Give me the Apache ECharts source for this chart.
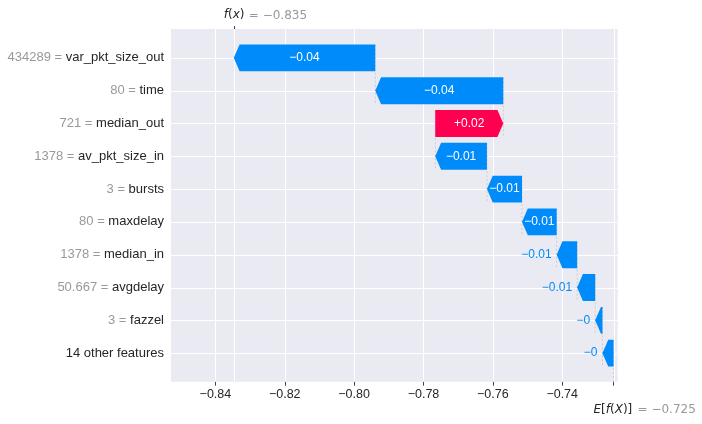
<!DOCTYPE html>
<html>
<head>
<meta charset="utf-8">
<script src="https://cdn.jsdelivr.net/npm/echarts@6/dist/echarts.min.js"></script>
<style>
  html, body { margin: 0; padding: 0; background: #ffffff; }
  #chart { width: 702px; height: 424px; }
</style>
</head>
<body>
<div id="chart"></div>
<script>
// ---- data (top row first) ----
const featureNames = ['var_pkt_size_out', 'time', 'median_out', 'av_pkt_size_in', 'bursts',
  'maxdelay', 'median_in', 'avgdelay', 'fazzel', '14 other features'];
const featureValues = ['434289', '80', '721', '1378', '3', '80', '1378', '50.667', '3', ''];
const shapValues = [-0.0408, -0.0369, 0.0196, -0.0149, -0.0101, -0.0100, -0.0059, -0.0052, -0.0021, -0.0032];
const barLabels = ['\u22120.04', '\u22120.04', '+0.02', '\u22120.01', '\u22120.01', '\u22120.01', '\u22120.01', '\u22120.01', '\u22120', '\u22120'];
const baseValue = -0.7252;
const xTicks = [-0.84, -0.82, -0.80, -0.78, -0.76, -0.74];
const xMin = -0.8528, xMax = -0.7240;

// ---- derived ----
const rows = [];
let pos = baseValue;
for (let i = featureNames.length - 1; i >= 0; i--) {
  const start = pos, end = pos + shapValues[i];
  rows[i] = [i, start, end];
  pos = end;
}
const fx = pos;
const rowIdx = featureNames.map((_, i) => i);

const BLUE = '#008bfb', RED = '#ff0051';
const minus = s => s.replace('-', '\u2212');

const measureCtx = document.createElement('canvas').getContext('2d');
measureCtx.font = '12px "Liberation Sans"';

// grid lines: [kind (0 = vertical at x value, 1 = horizontal at row), value]
const gridData = xTicks.concat([fx, baseValue]).map(v => [0, v]).concat(rowIdx.map(i => [1, i]));

const chart = echarts.init(document.getElementById('chart'), null, { renderer: 'canvas' });

chart.setOption({
  animation: false,
  grid: { left: 171, right: 84.3, top: 29, bottom: 42.3, show: true, backgroundColor: '#eaeaf2', borderWidth: 0 },
  xAxis: [{
    type: 'value', min: xMin, max: xMax, position: 'bottom',
    axisLine: { show: false, onZero: false }, splitLine: { show: false },
    axisTick: { show: true, customValues: xTicks.concat([baseValue]), length: 4, lineStyle: { color: '#444', width: 1 } },
    axisLabel: { customValues: xTicks, margin: 6, fontFamily: 'Liberation Sans', fontSize: 12.5, color: '#262626',
      formatter: v => minus(v.toFixed(2)) }
  }, {
    type: 'value', min: xMin, max: xMax, position: 'top',
    axisLine: { show: false, onZero: false }, splitLine: { show: false },
    axisTick: { show: true, customValues: [fx], length: 3, lineStyle: { color: '#444', width: 1 } },
    axisLabel: { show: false }
  }],
  yAxis: {
    type: 'value', inverse: true, min: -0.88, max: 9.87,
    axisLine: { show: false, onZero: false }, axisTick: { show: false }, splitLine: { show: false },
    axisLabel: {
      customValues: rowIdx, margin: 7, fontFamily: 'Liberation Sans', fontSize: 13,
      formatter: v => {
        const i = Math.round(v);
        return featureValues[i] ? '{v|' + featureValues[i] + ' = }{n|' + featureNames[i] + '}' : '{n|' + featureNames[i] + '}';
      },
      rich: {
        v: { color: '#999999', fontFamily: 'Liberation Sans', fontSize: 13 },
        n: { color: '#262626', fontFamily: 'Liberation Sans', fontSize: 13 }
      }
    }
  },
  series: [{
    type: 'custom', z: 1, clip: true, silent: true,
    data: gridData,
    renderItem: (params, api) => {
      const cs = params.coordSys;
      const kind = api.value(0), v = api.value(1);
      if (kind === 0) {
        const x = Math.round(api.coord([v, 0])[0]) + 0.5;
        return { type: 'line', shape: { x1: x, y1: cs.y, x2: x, y2: cs.y + cs.height },
          style: { stroke: '#ffffff', lineWidth: 1 } };
      }
      const y = Math.round(api.coord([xMin, v])[1]) + 0.5;
      return { type: 'line', shape: { x1: cs.x, y1: y, x2: cs.x + cs.width, y2: y },
        style: { stroke: '#ffffff', lineWidth: 1 } };
    }
  }, {
    type: 'custom', z: 3, clip: true, silent: true,
    data: rows,
    renderItem: (params, api) => {
      const i = api.value(0), s = api.value(1), e = api.value(2);
      const pS = api.coord([s, i]), pE = api.coord([e, i]);
      const rowH = api.size([0, 1])[1];
      const hh = rowH * 0.41;
      const cy = pS[1];
      const dir = e < s ? -1 : 1;
      const len = Math.abs(pE[0] - pS[0]);
      const hl = Math.min(5.8, len);
      const neck = pE[0] - dir * hl;
      const color = dir < 0 ? BLUE : RED;
      const c1 = api.coord([s, i - 0.4]), c2 = api.coord([s, i + 1.4]);
      const children = [{
        type: 'line',
        shape: { x1: c1[0], y1: c1[1], x2: c2[0], y2: c2[1] },
        style: { stroke: '#c4c4c4', lineWidth: 0.8, lineDash: [2, 2] }
      }, {
        type: 'polygon',
        shape: { points: [[pS[0], cy - hh], [neck, cy - hh], [pE[0], cy], [neck, cy + hh], [pS[0], cy + hh]] },
        style: { fill: color }
      }];
      const txt = barLabels[i];
      const tw = measureCtx.measureText(txt).width;
      if (tw <= len) {
        children.push({ type: 'text', x: (pS[0] + pE[0]) / 2, y: cy,
          style: { text: txt, fill: '#ffffff', font: '12px "Liberation Sans"', align: 'center', verticalAlign: 'middle' } });
      } else if (dir < 0) {
        children.push({ type: 'text', x: pE[0] - 5, y: cy,
          style: { text: txt, fill: BLUE, font: '12px "Liberation Sans"', align: 'right', verticalAlign: 'middle' } });
      } else {
        children.push({ type: 'text', x: pE[0] + 5, y: cy,
          style: { text: txt, fill: RED, font: '12px "Liberation Sans"', align: 'left', verticalAlign: 'middle' } });
      }
      return { type: 'group', children: children };
    }
  }]
});

// annotation texts positioned from the axis scale
const pxFx = chart.convertToPixel({ xAxisIndex: 0 }, fx);
const pxE = chart.convertToPixel({ xAxisIndex: 0 }, baseValue);
const mathRich = {
  i: { fontFamily: 'DejaVu Sans', fontStyle: 'italic', fontSize: 12, fill: '#262626' },
  u: { fontFamily: 'DejaVu Sans', fontSize: 12, fill: '#262626' }
};
chart.setOption({
  graphic: [
    { type: 'text', x: pxFx - 10, y: 15, silent: true,
      style: { text: '{i|f}{u|(}{i|x}{u|)}', rich: mathRich, align: 'left', verticalAlign: 'middle' } },
    { type: 'text', x: pxFx + 15, y: 15.5, silent: true,
      style: { text: '= ' + minus(fx.toFixed(3)), font: '12px "DejaVu Sans"', fill: '#999999', align: 'left', verticalAlign: 'middle' } },
    { type: 'text', x: pxE - 20, y: 409.5, silent: true,
      style: { text: '{i|E}{u|[}{i|f}{u|(}{i|X}{u|)]}', rich: mathRich, align: 'left', verticalAlign: 'middle' } },
    { type: 'text', x: pxE + 24, y: 409.8, silent: true,
      style: { text: '= ' + minus(baseValue.toFixed(3)), font: '12px "DejaVu Sans"', fill: '#999999', align: 'left', verticalAlign: 'middle' } }
  ]
});
</script>
</body>
</html>
